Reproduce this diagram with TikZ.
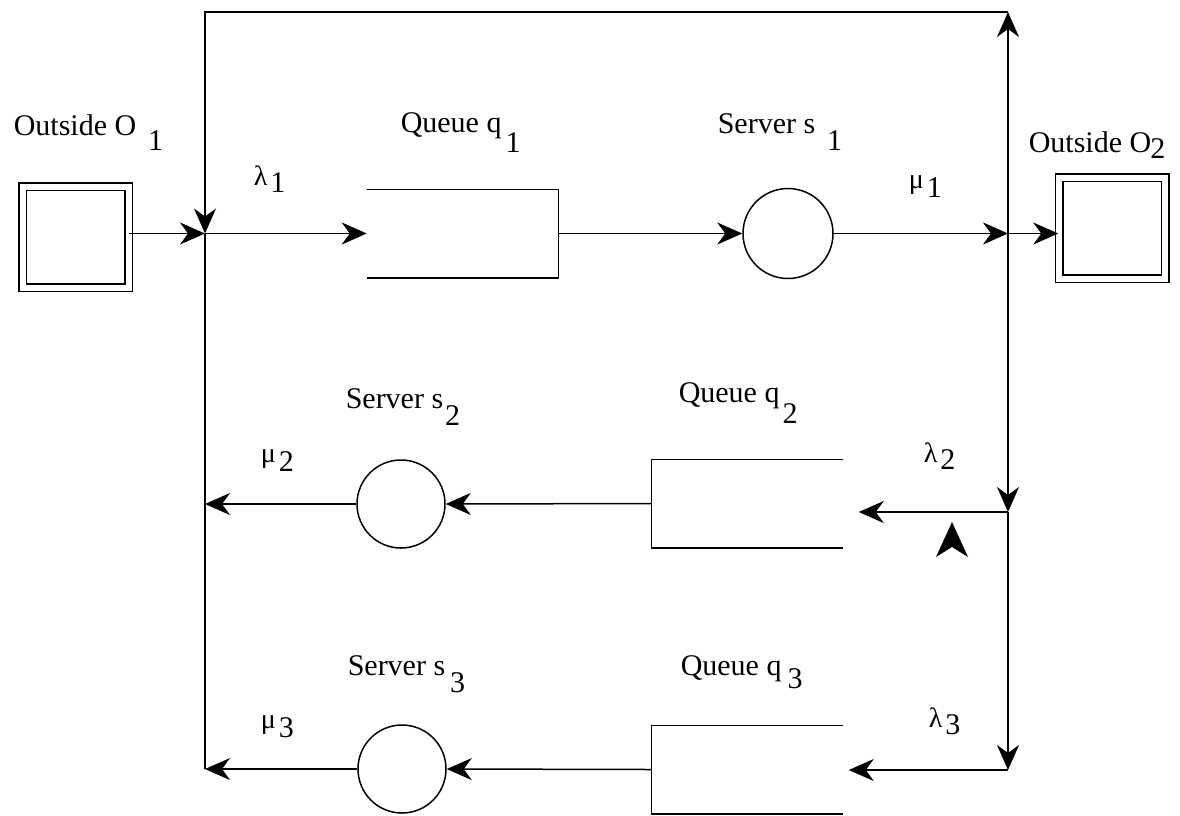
\documentclass[tikz,border=0pt]{standalone}
\usepackage{fontspec}
\setmainfont{Liberation Serif}
\usetikzlibrary{arrows.meta,positioning}

% lowered index and rate symbols
\newcommand{\lo}[2][17pt]{\raisebox{-#1}{#2}}
\newcommand{\rate}[3][7pt]{{\fontsize{28}{28}\selectfont #2}\hspace{3pt}\raisebox{-#1}{#3}}

\begin{document}
\begin{tikzpicture}[x=1pt,y=-1pt,line width=1.5pt,
  flow/.style={-{Stealth[length=25pt,width=22pt,inset=8pt]}},
  queue/.style={minimum width=190pt,minimum height=87pt,inner sep=0pt},
  server/.style={circle,draw,minimum size=88pt,inner sep=0pt},
  outside/.style={draw,double,double distance=6pt,inner sep=0pt,minimum width=106pt,minimum height=101pt},
  lbl/.style={anchor=base west,inner sep=0pt,font=\fontsize{30}{34}\selectfont}]
  \useasboundingbox (0,0) rectangle (1180,815);

  % boxes, queues and servers
  \node[outside] (o1) at (75.5,237) {};
  \node[outside] (o2) at (1112,228) {};
  \node[queue] (q1) at (462.5,233.5) {};
  \node[queue] (q2) at (747,503.5) {};
  \node[queue] (q3) at (747,769.5) {};
  \node[server,minimum size=90pt] (s1) at (788,233.5) {};
  \node[server] (s2) at (401,504) {};
  \node[server] (s3) at (402,769) {};
  \draw (q1.north west) -- (q1.north east) -- (q1.south east) -- (q1.south west);
  \draw (q2.north east) -- (q2.north west) -- (q2.south west) -- (q2.south east);
  \draw (q3.north east) -- (q3.north west) -- (q3.south west) -- (q3.south east);

  % junctions
  \coordinate (tl) at (205,12);
  \coordinate (tr) at (1008,12);
  \coordinate (jl1) at (205,233.5);
  \coordinate (jr1) at (1008,233.5);
  \coordinate (jr2) at (1008,512);
  \coordinate (jr3) at (1008,770);
  \coordinate (q2in) at ([xshift=16pt]q2.east);
  \coordinate (q3in) at ([xshift=6pt]q3.east);

  % row 1
  \draw[flow] (o1.east |- jl1) -- (jl1);
  \draw[flow] (jl1) -- (q1.west);
  \draw[flow] (q1.east) -- (s1.west);
  \draw[flow] (s1.east) -- (jr1);
  \draw[flow] (jr1) -- (o2.west |- jr1);
  % feedback
  \draw[flow] (jr1) -- (tr);
  \draw[flow] (tr) -- (tl) -- (jl1);
  \draw[flow] (jr1) -- (jr2);
  \draw[flow] (jr2) -- (jr3);
  \draw (jl1) -- (tl |- s3.west);
  % row 2
  \draw[flow] (jr2) -- (q2in |- jr2);
  \draw[flow] (q2.west) -- (s2.east);
  \draw[flow] (s2.west) -- (s2.west -| tl);
  \fill (952,522) -- (968,557) -- (952,547) -- (936,557) -- cycle;
  % row 3
  \draw[flow] (jr3) -- (q3in |- jr3);
  \draw[flow] (q3.west) -- (s3.east);
  \draw[flow] (s3.west) -- (s3.west -| tl);

  % labels
  \node[lbl] (o1lbl) at (13,135) {Outside O\hspace{12pt}\lo[15pt]{1}};
  \node[lbl] (q1lbl) at (400,132) {Queue q\hspace{4pt}\lo[20pt]{1}};
  \node[lbl] (s1lbl) at (717,133) {Server s\hspace{12pt}\lo{1}};
  \node[lbl] (o2lbl) at (1028,152) {Outside O\hspace{-1pt}\lo[6pt]{2}};
  \node[lbl] (s2lbl) at (345,408) {Server s\hspace{2pt}\lo{2}};
  \node[lbl] (q2lbl) at (678,402) {Queue q\hspace{3pt}\lo[21pt]{2}};
  \node[lbl] (s3lbl) at (347,675) {Server s\hspace{5pt}\lo{3}};
  \node[lbl] (q3lbl) at (680,675) {Queue q\hspace{6pt}\lo[13pt]{3}};
  \node[lbl] (l1) at (253,185) {\rate{λ}{1}};
  \node[lbl] (m1) at (908,188) {\rate[9pt]{μ}{1}};
  \node[lbl] (l2) at (923,462) {\rate{λ}{2}};
  \node[lbl] (m2) at (260,462) {\rate[9pt]{μ}{2}};
  \node[lbl] (l3) at (928,727) {\rate{λ}{3}};
  \node[lbl] (m3) at (260,728) {\rate[9pt]{μ}{3}};
\end{tikzpicture}
\end{document}
